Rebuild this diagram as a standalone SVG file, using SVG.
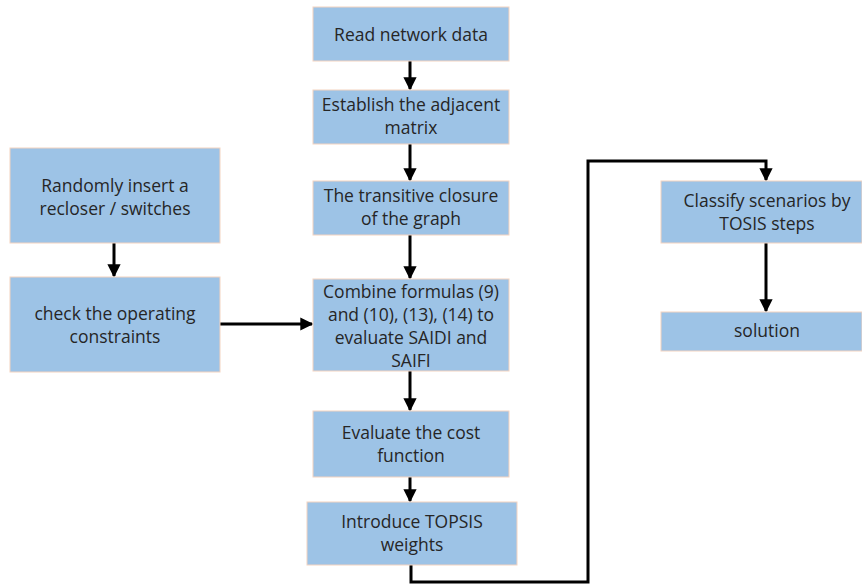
<svg xmlns="http://www.w3.org/2000/svg" width="862" height="586" viewBox="0 0 862 586">
<style>
.box{fill:#9DC3E6;stroke:#F4D3C0;stroke-width:1}
.t{font-family:"Open Sans","Liberation Sans",Arial,sans-serif;font-size:17.5px;fill:#262626;text-anchor:middle}
.c{fill:none;stroke:#000;stroke-width:3}
</style>
<defs>
<marker id="ah" markerWidth="4.4" markerHeight="4.4" refX="3.9" refY="2.2" orient="auto" markerUnits="strokeWidth">
<path d="M0,0 L4.4,2.2 L0,4.4 Z" fill="#000"/>
</marker>
</defs>
<rect width="862" height="586" fill="#fff"/>
<g id="connectors">
<line class="c" x1="410" y1="61" x2="410" y2="89" marker-end="url(#ah)"/>
<line class="c" x1="410" y1="144" x2="410" y2="180" marker-end="url(#ah)"/>
<line class="c" x1="410" y1="235" x2="410" y2="278" marker-end="url(#ah)"/>
<line class="c" x1="410" y1="371" x2="410" y2="410" marker-end="url(#ah)"/>
<line class="c" x1="410" y1="477" x2="410" y2="501" marker-end="url(#ah)"/>
<line class="c" x1="114" y1="243" x2="114" y2="276" marker-end="url(#ah)"/>
<line class="c" x1="220" y1="324" x2="312" y2="324" marker-end="url(#ah)"/>
<polyline class="c" points="411,565 411,582 588,582 588,161 766,161 766,180" marker-end="url(#ah)"/>
<line class="c" x1="766" y1="243" x2="766" y2="311" marker-end="url(#ah)"/>
</g>
<g id="n1"><rect class="box" x="313" y="7" width="196" height="54"/><text class="t" x="411" y="41">Read network data</text></g>
<g id="n2"><rect class="box" x="313" y="90" width="196" height="54"/><text class="t" x="411" y="111">Establish the adjacent</text><text class="t" x="411" y="134">matrix</text></g>
<g id="n3"><rect class="box" x="313" y="181" width="196" height="54"/><text class="t" x="411" y="202">The transitive closure</text><text class="t" x="411" y="225">of the graph</text></g>
<g id="n4"><rect class="box" x="313" y="279" width="196" height="92"/><text class="t" x="411" y="298">Combine formulas (9)</text><text class="t" x="411" y="321">and (10), (13), (14) to</text><text class="t" x="411" y="344">evaluate SAIDI and</text><text class="t" x="411" y="367">SAIFI</text></g>
<g id="n5"><rect class="box" x="313" y="411" width="196" height="66"/><text class="t" x="411" y="439">Evaluate the cost</text><text class="t" x="411" y="462">function</text></g>
<g id="n6"><rect class="box" x="307" y="502" width="210" height="63"/><text class="t" x="412" y="528">Introduce TOPSIS</text><text class="t" x="412" y="551">weights</text></g>
<g id="n7"><rect class="box" x="10" y="148" width="210" height="95"/><text class="t" x="115" y="192">Randomly insert a</text><text class="t" x="115" y="215">recloser / switches</text></g>
<g id="n8"><rect class="box" x="10" y="277" width="210" height="95"/><text class="t" x="115" y="320">check the operating</text><text class="t" x="115" y="343">constraints</text></g>
<g id="n9"><rect class="box" x="661" y="181" width="201" height="62"/><text class="t" x="767" y="207">Classify scenarios by</text><text class="t" x="767" y="230">TOSIS steps</text></g>
<g id="n10"><rect class="box" x="661" y="312" width="201" height="39"/><text class="t" x="767" y="337">solution</text></g>
</svg>
